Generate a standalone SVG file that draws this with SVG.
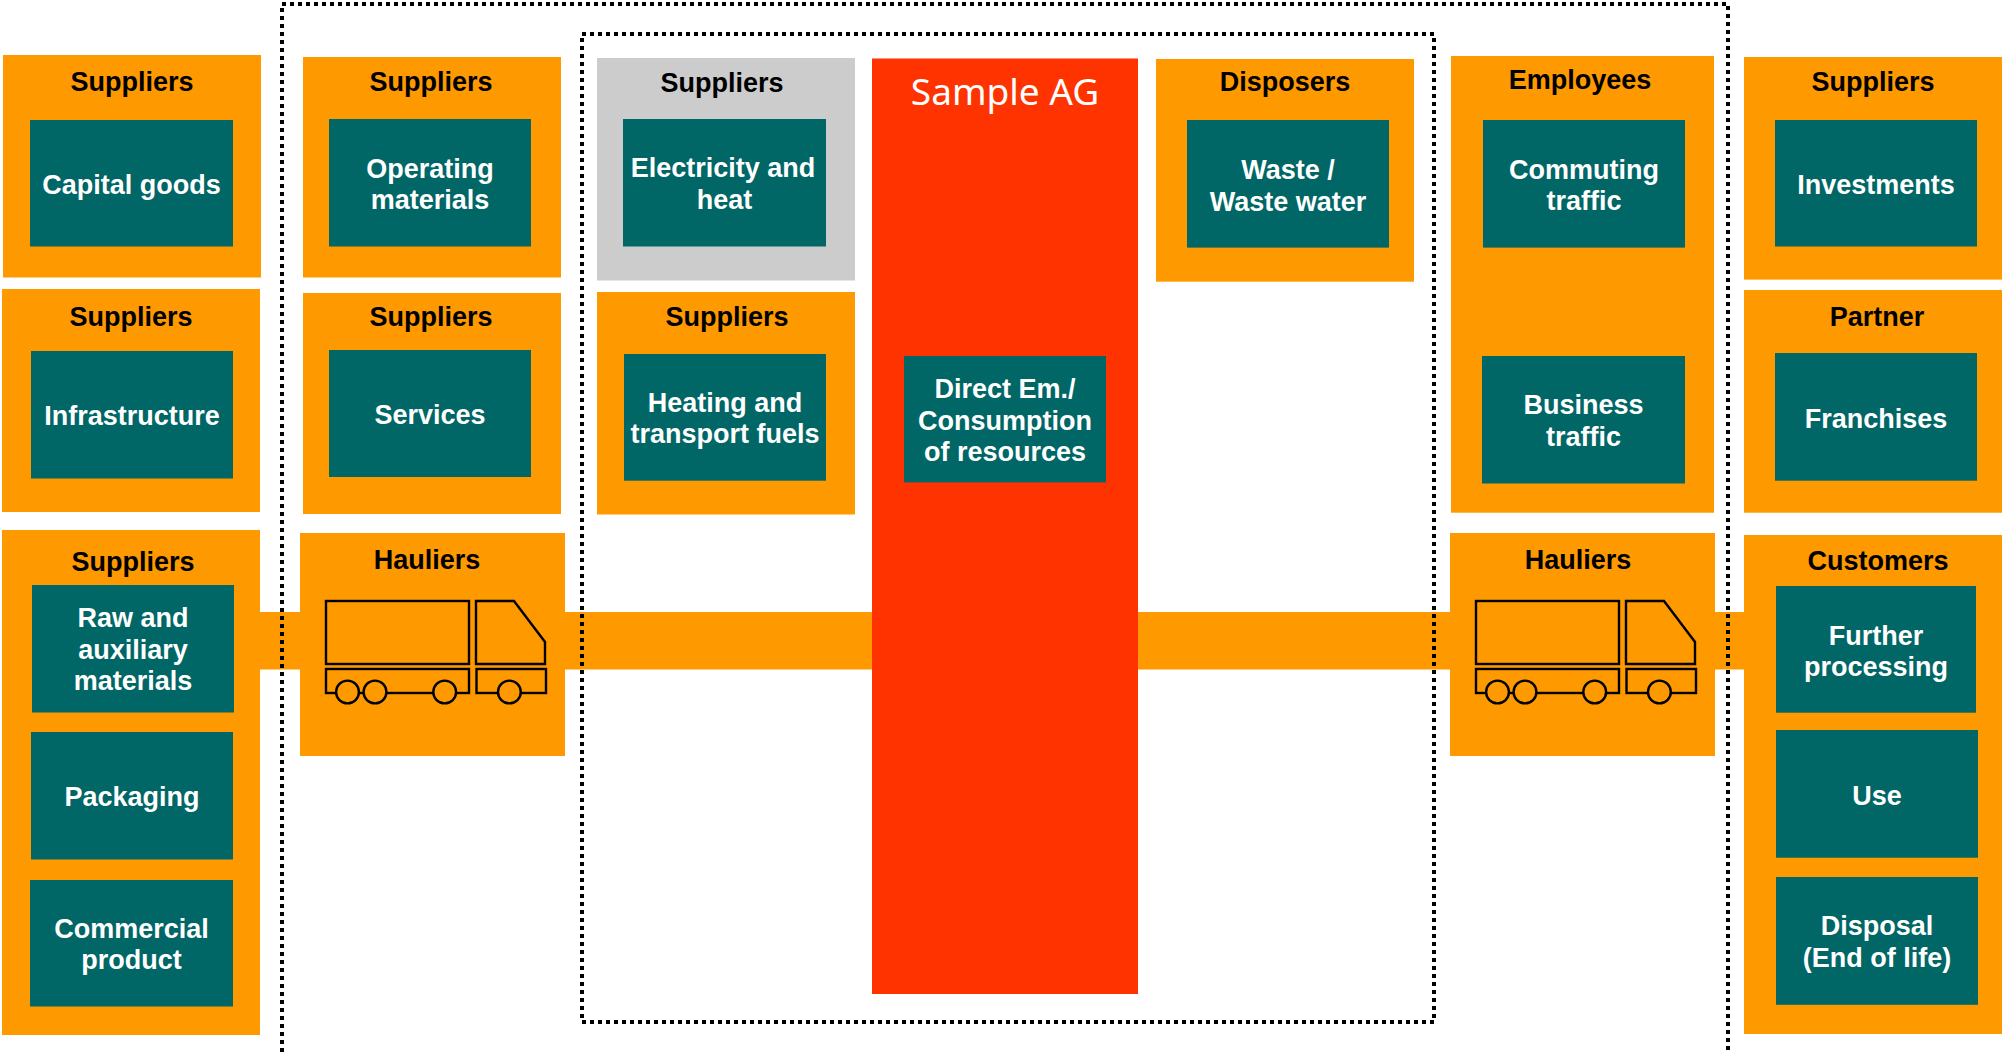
<svg xmlns="http://www.w3.org/2000/svg" xmlns:xlink="http://www.w3.org/1999/xlink" width="2002" height="1052" viewBox="0 0 2002 1052">
<style>
.box{fill:#FF9900}
.grey{fill:#CCCCCC}
.teal{fill:#006666}
.red{fill:#FF3300}
.title{font-family:"Liberation Sans",Arial,sans-serif;font-weight:bold;font-size:27px;fill:#000;text-anchor:middle}
.lbl{font-family:"Liberation Sans",Arial,sans-serif;font-weight:bold;font-size:27px;fill:#fff;text-anchor:middle}
.brand{font-family:"Noto Sans","Open Sans",sans-serif;font-size:37px;fill:#fff;text-anchor:middle}
.dot{fill:none;stroke:#000;stroke-width:4;stroke-dasharray:4 4}
.tr{fill:none;stroke:#000;stroke-width:2.4}
.wheel{fill:#FF9900;stroke:#000;stroke-width:2.4}
</style>
<defs>
<g id="truck">
<rect class="tr" x="0" y="0" width="143" height="63"/>
<path class="tr" d="M150,0 H188 L219,41 V63 H150 Z"/>
<rect class="tr" x="0" y="68" width="143" height="24"/>
<rect class="tr" x="150.5" y="68" width="69.5" height="24"/>
<circle class="wheel" cx="21.5" cy="91" r="11.4"/>
<circle class="wheel" cx="49" cy="91" r="11.4"/>
<circle class="wheel" cx="118.7" cy="91" r="11.4"/>
<circle class="wheel" cx="183.4" cy="91" r="11.4"/>
</g>
</defs>
<rect width="2002" height="1052" fill="#fff"/>

<g id="connectors">
<rect class="box" x="258" y="612" width="1488" height="57.5"/>
</g>

<g id="n-capital">
<rect class="box" x="3" y="55" width="258" height="222.5"/>
<text class="title" x="132" y="91">Suppliers</text>
<rect class="teal" x="30" y="120" width="203" height="126.5"/>
<text class="lbl" x="131.5" y="193.5">Capital goods</text>
</g>
<g id="n-infra">
<rect class="box" x="2" y="289" width="258" height="223"/>
<text class="title" x="131" y="325.5">Suppliers</text>
<rect class="teal" x="31" y="351" width="202" height="127.5"/>
<text class="lbl" x="132" y="424.5">Infrastructure</text>
</g>
<g id="n-raw">
<rect class="box" x="2" y="530" width="258" height="505"/>
<text class="title" x="133" y="571">Suppliers</text>
<rect class="teal" x="32" y="585" width="202" height="127.5"/>
<text class="lbl" x="133" y="627">Raw and</text>
<text class="lbl" x="133" y="658.5">auxiliary</text>
<text class="lbl" x="133" y="690">materials</text>
<rect class="teal" x="31" y="732" width="202" height="127.5"/>
<text class="lbl" x="132" y="806">Packaging</text>
<rect class="teal" x="30" y="880" width="203" height="126.5"/>
<text class="lbl" x="131.5" y="938">Commercial</text>
<text class="lbl" x="131.5" y="969">product</text>
</g>

<g id="n-operating">
<rect class="box" x="303" y="57" width="258" height="220.5"/>
<text class="title" x="431" y="91">Suppliers</text>
<rect class="teal" x="329" y="119" width="202" height="127.5"/>
<text class="lbl" x="430" y="177.5">Operating</text>
<text class="lbl" x="430" y="208.5">materials</text>
</g>
<g id="n-services">
<rect class="box" x="303" y="293" width="258" height="221"/>
<text class="title" x="431" y="325.5">Suppliers</text>
<rect class="teal" x="329" y="350" width="202" height="127"/>
<text class="lbl" x="430" y="423.5">Services</text>
</g>
<g id="n-hauliers1">
<rect class="box" x="300" y="533" width="265" height="223"/>
<text class="title" x="427" y="569">Hauliers</text>
<use xlink:href="#truck" href="#truck" x="326" y="601"/>
</g>

<g id="n-electricity">
<rect class="grey" x="597" y="58" width="258" height="222.5"/>
<text class="title" x="722" y="91.5">Suppliers</text>
<rect class="teal" x="623" y="119" width="203" height="127.5"/>
<text class="lbl" x="723" y="177">Electricity and</text>
<text class="lbl" x="724.5" y="208.5">heat</text>
</g>
<g id="n-heating">
<rect class="box" x="597" y="292" width="258" height="222.5"/>
<text class="title" x="727" y="325.5">Suppliers</text>
<rect class="teal" x="624" y="354" width="202" height="126.7"/>
<text class="lbl" x="725" y="412">Heating and</text>
<text class="lbl" x="725" y="443">transport fuels</text>
</g>

<g id="n-sample">
<rect class="red" x="872" y="58.5" width="266" height="935.5"/>
<text class="brand" x="1005" y="105">Sample AG</text>
<rect class="teal" x="904" y="356" width="202" height="126.4"/>
<text class="lbl" x="1005" y="398">Direct Em./</text>
<text class="lbl" x="1005" y="429.5">Consumption</text>
<text class="lbl" x="1005" y="461">of resources</text>
</g>

<g id="n-disposers">
<rect class="box" x="1156" y="59" width="258" height="222.7"/>
<text class="title" x="1285" y="91">Disposers</text>
<rect class="teal" x="1187" y="120" width="202" height="127.6"/>
<text class="lbl" x="1288" y="179">Waste /</text>
<text class="lbl" x="1288" y="210.5">Waste water</text>
</g>

<g id="n-employees">
<rect class="box" x="1451" y="56" width="263" height="456.7"/>
<text class="title" x="1580" y="88.5">Employees</text>
<rect class="teal" x="1483" y="120" width="202" height="127.6"/>
<text class="lbl" x="1584" y="178.5">Commuting</text>
<text class="lbl" x="1584" y="210">traffic</text>
<rect class="teal" x="1482" y="356" width="203" height="127.5"/>
<text class="lbl" x="1583.5" y="414">Business</text>
<text class="lbl" x="1583.5" y="445.5">traffic</text>
</g>
<g id="n-hauliers2">
<rect class="box" x="1450" y="533" width="265" height="223"/>
<text class="title" x="1578" y="568.5">Hauliers</text>
<use xlink:href="#truck" href="#truck" x="1476" y="601"/>
</g>

<g id="n-investments">
<rect class="box" x="1744" y="57" width="258" height="222.6"/>
<text class="title" x="1873" y="90.5">Suppliers</text>
<rect class="teal" x="1775" y="120" width="202" height="126.5"/>
<text class="lbl" x="1876" y="194">Investments</text>
</g>
<g id="n-franchises">
<rect class="box" x="1744" y="290" width="258" height="222.7"/>
<text class="title" x="1877" y="325.5">Partner</text>
<rect class="teal" x="1775" y="353" width="202" height="127.7"/>
<text class="lbl" x="1876" y="427.5">Franchises</text>
</g>
<g id="n-customers">
<rect class="box" x="1744" y="535" width="258" height="499"/>
<text class="title" x="1878" y="569.5">Customers</text>
<rect class="teal" x="1776" y="586" width="200" height="126.7"/>
<text class="lbl" x="1876" y="644.5">Further</text>
<text class="lbl" x="1876" y="676">processing</text>
<rect class="teal" x="1776" y="730" width="202" height="127.7"/>
<text class="lbl" x="1877" y="804.5">Use</text>
<rect class="teal" x="1776" y="877" width="202" height="127.8"/>
<text class="lbl" x="1877" y="935">Disposal</text>
<text class="lbl" x="1877" y="966.5">(End of life)</text>
</g>

<g id="boundaries">
<path class="dot" d="M282,1060 V4 H1728 V1060"/>
<rect class="dot" x="582" y="34" width="852" height="988"/>
</g>
</svg>
